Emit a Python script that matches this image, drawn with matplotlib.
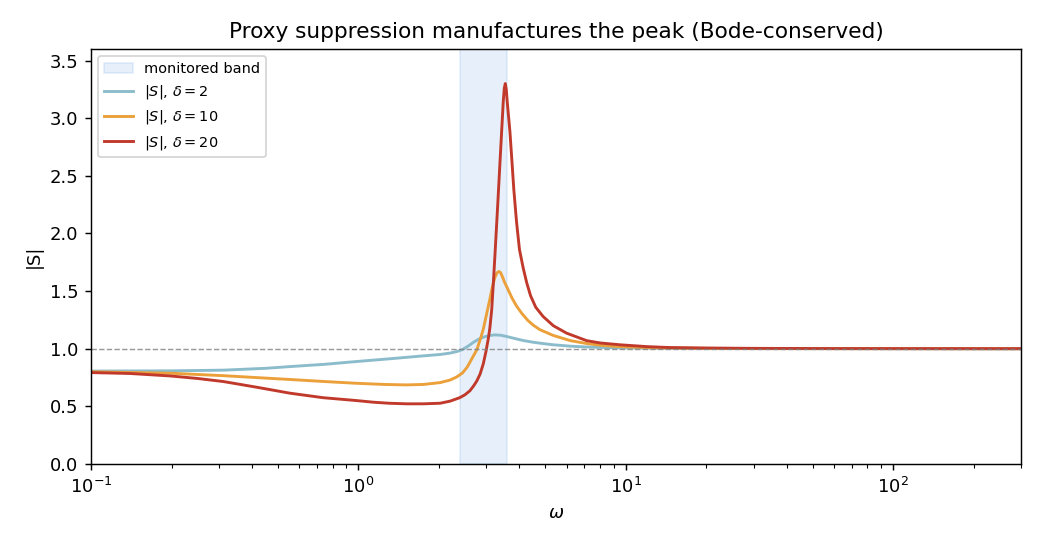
import matplotlib
matplotlib.use("Agg")
import matplotlib.pyplot as plt

# Data
omega_d2 = [0.1, 0.2, 0.313, 0.45, 0.555, 0.75, 0.985, 1.3, 1.75, 2.02, 2.20, 2.33, 2.45, 2.58, 2.69,
            2.80, 2.93, 3.08, 3.24, 3.40, 3.58, 3.85, 4.13, 4.45, 4.77, 5.35, 6.2, 7.13, 9.5, 14.6,
            30.0, 300.0]
s_d2 = [0.806, 0.808, 0.814, 0.83, 0.845, 0.865, 0.889, 0.912, 0.938, 0.95, 0.962, 0.975, 0.993, 1.025, 1.055,
        1.08, 1.10, 1.114, 1.12, 1.117, 1.106, 1.088, 1.071, 1.058, 1.048, 1.034, 1.022, 1.015, 1.007, 1.003,
        1.001, 1.0]

omega_d10 = [0.1, 0.2, 0.313, 0.45, 0.555, 0.75, 0.985, 1.25, 1.51, 1.75, 2.02, 2.20, 2.33, 2.45, 2.55,
             2.65, 2.77, 2.85, 2.93, 3.02, 3.10, 3.17, 3.24, 3.30, 3.35, 3.40, 3.46, 3.52, 3.58, 3.63,
             3.75, 3.90, 4.07, 4.30, 4.50, 4.77, 5.35, 6.2, 7.13, 8.2, 9.5, 12.0, 14.6, 20.0, 30.0,
             300.0]
s_d10 = [0.80, 0.787, 0.766, 0.745, 0.733, 0.715, 0.70, 0.69, 0.686, 0.69, 0.706, 0.728, 0.755, 0.79, 0.84,
         0.91, 0.99, 1.077, 1.17, 1.31, 1.43, 1.54, 1.62, 1.66, 1.67, 1.66, 1.62, 1.575, 1.54, 1.51,
         1.44, 1.37, 1.31, 1.245, 1.205, 1.165, 1.115, 1.07, 1.045, 1.028, 1.018, 1.01, 1.006, 1.003, 1.001,
         1.0]

omega_d20 = [0.1, 0.14, 0.197, 0.25, 0.313, 0.416, 0.555, 0.738, 0.985, 1.136, 1.3, 1.51, 1.75, 2.02, 2.20,
             2.39, 2.50, 2.61, 2.70, 2.77, 2.85, 2.93, 3.00, 3.06, 3.10, 3.15, 3.20, 3.24, 3.31, 3.37,
             3.43, 3.48, 3.51, 3.54, 3.57, 3.60, 3.685, 3.75, 3.81, 3.90, 4.00, 4.13, 4.26, 4.40, 4.60,
             4.90, 5.35, 6.0, 7.13, 8.0, 9.5, 12.0, 14.6, 20.0, 30.0, 60.0, 300.0]
s_d20 = [0.793, 0.785, 0.764, 0.742, 0.715, 0.666, 0.614, 0.575, 0.55, 0.536, 0.527, 0.522, 0.522, 0.527, 0.545,
         0.575, 0.60, 0.635, 0.68, 0.72, 0.78, 0.87, 0.98, 1.09, 1.18, 1.34, 1.60, 1.82, 2.21, 2.55,
         2.88, 3.15, 3.26, 3.30, 3.25, 3.14, 2.88, 2.62, 2.38, 2.10, 1.86, 1.70, 1.57, 1.46, 1.36,
         1.28, 1.20, 1.135, 1.07, 1.05, 1.034, 1.018, 1.01, 1.006, 1.003, 1.001, 1.0]

band = [2.4, 3.6]
series_labels = [r"$|S|$, $\delta=2$", r"$|S|$, $\delta=10$", r"$|S|$, $\delta=20$"]
colors = ["#8bbccc", "#eba03a", "#c0392b"]

fig = plt.figure(figsize=(8, 4.2), dpi=130)
ax = fig.add_axes([0.0875, 0.1502, 0.9817 - 0.0875, 0.9103 - 0.1502])

ax.axvspan(band[0], band[1], facecolor="#4a90d9", alpha=0.13, edgecolor="#4a90d9", lw=1.0,
           label="monitored band")
ax.plot(omega_d2, s_d2, color=colors[0], lw=1.6, label=series_labels[0])
ax.plot(omega_d10, s_d10, color=colors[1], lw=1.6, label=series_labels[1])
ax.plot(omega_d20, s_d20, color=colors[2], lw=1.6, label=series_labels[2])
ax.axhline(1.0, color="gray", ls="--", lw=0.8, alpha=0.8)

ax.set_xscale("log")
ax.set_xlim(0.1, 300)
ax.set_ylim(0, 3.6)
ax.set_xlabel(r"$\omega$")
ax.set_ylabel("|S|")
ax.set_title("Proxy suppression manufactures the peak (Bode-conserved)")
ax.legend(loc="upper left", fontsize=8)

fig.savefig("out.png", dpi=130)
